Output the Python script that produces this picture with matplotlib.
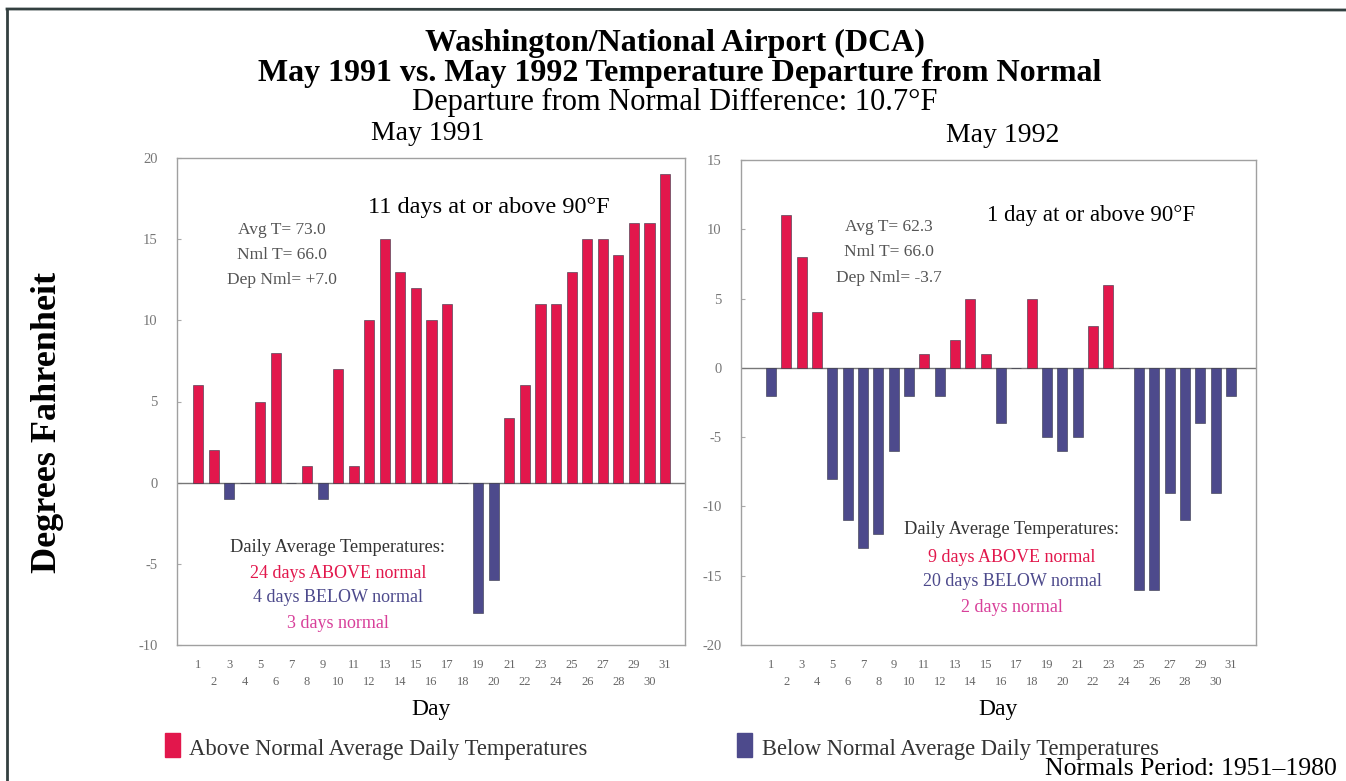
import matplotlib

matplotlib.use("Agg")
import matplotlib.pyplot as plt
from matplotlib.lines import Line2D
from matplotlib.patches import Rectangle

plt.rcParams["font.family"] = ["Liberation Serif", "DejaVu Serif"]

# daily departures from normal (deg F)
days = list(range(1, 32))
dep_1991 = [6, 2, -1, 0, 5, 8, 0, 1, -1, 7, 1, 10, 15, 13, 12, 10,
            11, 0, -8, -6, 4, 6, 11, 11, 13, 15, 15, 14, 16, 16, 19]
dep_1992 = [-2, 11, 8, 4, -8, -11, -13, -12, -6, -2, 1, -2, 2, 5, 1, -4,
            0, 5, -5, -6, -5, 3, 6, 0, -16, -16, -9, -11, -4, -9, -2]
yticks_1991 = [-10, -5, 0, 5, 10, 15, 20]
yticks_1992 = [-20, -15, -10, -5, 0, 5, 10, 15]
stats_1991 = ["Avg T= 73.0", "Nml T= 66.0", "Dep Nml= +7.0"]
stats_1992 = ["Avg T= 62.3", "Nml T= 66.0", "Dep Nml= -3.7"]
counts_1991 = ["24 days ABOVE normal", "4 days BELOW normal", "3 days normal"]
counts_1992 = ["9 days ABOVE normal", "20 days BELOW normal", "2 days normal"]

RED = "#E2174C"
BLUE = "#4D4A8C"
MAGENTA = "#D8409A"
GRAY = "#555555"
W, H = 1346, 781


def fx(px):
    return px / W


def fy(py):
    return 1 - py / H


fig = plt.figure(figsize=(W / 100, H / 100), dpi=100)


def panel(rect, vals, yticks, xlim):
    ax = fig.add_axes(rect)
    colors = [RED if v > 0 else BLUE for v in vals]
    ax.bar(days, vals, width=0.65, color=colors, edgecolor="#333344", linewidth=0.4, zorder=3)
    ax.axhline(0, color="#777777", linewidth=1.0, zorder=2)
    ax.set_xlim(*xlim)
    ax.set_ylim(yticks[0], yticks[-1])
    ax.set_yticks(yticks)
    ax.set_yticklabels([str(t) for t in yticks], fontsize=10.5, color="#777777")
    ax.set_xticks(days)
    ax.set_xticklabels([str(d) if d % 2 else "\n" + str(d) for d in days],
                       fontsize=9, color="#666666", linespacing=1.6)
    ax.tick_params(axis="x", length=0, pad=10)
    ax.tick_params(axis="y", length=3, direction="in", color="#aaaaaa", pad=14)
    for s in ax.spines.values():
        s.set_color("#a0a0a0")
        s.set_linewidth(1.0)
    ax.set_xlabel("Day", fontsize=17, labelpad=8)
    return ax


ax1 = panel([fx(177), fy(645), fx(685) - fx(177), fy(158) - fy(645)],
            dep_1991, yticks_1991, (-0.35, 32.28))
ax2 = panel([fx(741), fy(645), fx(1256) - fx(741), fy(160) - fy(645)],
            dep_1992, yticks_1992, (-0.96, 32.63))

# titles
fig.text(fx(675), fy(43), "Washington/National Airport (DCA)", ha="center", va="center",
         fontsize=23, fontweight="bold")
fig.text(fx(680), fy(74), "May 1991 vs. May 1992 Temperature Departure from Normal",
         ha="center", va="center", fontsize=23, fontweight="bold")
fig.text(fx(675), fy(102), "Departure from Normal Difference: 10.7\u00b0F", ha="center",
         va="center", fontsize=22)
fig.text(fx(428), fy(134), "May 1991", ha="center", va="center", fontsize=20)
fig.text(fx(1003), fy(136), "May 1992", ha="center", va="center", fontsize=20)
fig.text(fx(48), fy(422), "Degrees Fahrenheit", rotation=90, ha="center", va="center",
         fontsize=26, fontweight="bold")

# annotations inside panels
fig.text(fx(489), fy(208), "11 days at or above 90\u00b0F", ha="center", va="center", fontsize=17.5)
fig.text(fx(1091), fy(216), "1 day at or above 90\u00b0F", ha="center", va="center", fontsize=16.5)
for i, s in enumerate(stats_1991):
    fig.text(fx(282), fy(230 + 25 * i), s, ha="center", va="center", fontsize=12.5, color=GRAY)
for i, s in enumerate(stats_1992):
    fig.text(fx(889), fy(227 + 25.5 * i), s, ha="center", va="center", fontsize=12.5, color=GRAY)

fig.text(fx(338), fy(547), "Daily Average Temperatures:", ha="center", va="center",
         fontsize=13.2, color="#333333")
for i, (s, c) in enumerate(zip(counts_1991, [RED, BLUE, MAGENTA])):
    fig.text(fx(338), fy(573 + 25 * i), s, ha="center", va="center", fontsize=13, color=c)
fig.text(fx(1012), fy(530), "Daily Average Temperatures:", ha="center", va="center",
         fontsize=13.2, color="#333333")
for i, (s, c) in enumerate(zip(counts_1992, [RED, BLUE, MAGENTA])):
    fig.text(fx(1012), fy(557 + 25 * i), s, ha="center", va="center", fontsize=13, color=c)

# legend
fig.patches.append(Rectangle((fx(165), fy(757)), fx(15), fy(733) - fy(757), color=RED,
                             transform=fig.transFigure, figure=fig))
fig.text(fx(189), fy(749), "Above Normal Average Daily Temperatures", ha="left", va="center",
         fontsize=16.3, color="#333333")
fig.patches.append(Rectangle((fx(737), fy(757)), fx(15), fy(733) - fy(757), color=BLUE,
                             transform=fig.transFigure, figure=fig))
fig.text(fx(762), fy(749), "Below Normal Average Daily Temperatures", ha="left", va="center",
         fontsize=16.3, color="#333333")
fig.text(fx(1337), fy(769), "Normals Period: 1951\u20131980", ha="right", va="center",
         fontsize=18.5)

# frame lines (top and left)
fig.add_artist(Line2D([fx(7), 1], [fy(9), fy(10)], color="#334040", linewidth=2))
fig.add_artist(Line2D([fx(7), fx(7)], [fy(9), 0], color="#334040", linewidth=2))

fig.savefig("out.png", dpi=100, facecolor="white")
